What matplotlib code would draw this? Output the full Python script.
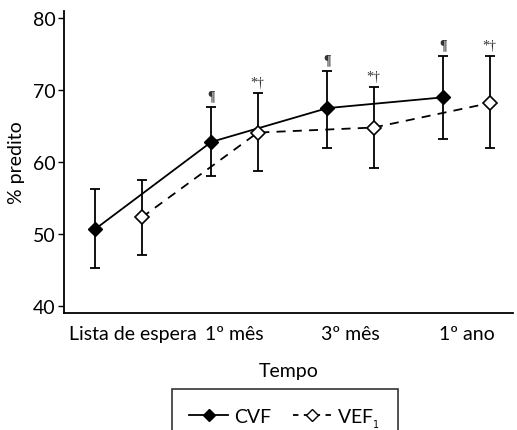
import numpy as np
import matplotlib.pyplot as plt
from matplotlib.lines import Line2D
from matplotlib.transforms import ScaledTranslation

# categories and series (% predito)
tempos = ['Lista de espera', '1º mês', '3º mês', '1º ano']
cvf = [50.7, 62.8, 67.5, 69.0]
cvf_lo = [45.2, 58.0, 62.0, 63.2]
cvf_hi = [56.2, 67.7, 72.7, 74.8]
vef1 = [52.3, 64.1, 64.8, 68.2]
vef1_lo = [47.1, 58.7, 59.2, 61.9]
vef1_hi = [57.5, 69.6, 70.4, 74.7]
cvf_marks = ['', '¶', '¶', '¶']
vef1_marks = ['', '*†', '*†', '*†']

plt.rcParams['font.family'] = ['Lato', 'DejaVu Sans']

x = np.arange(len(tempos))
off = 0.2
xc = x - off
xv = x + off

fig = plt.figure(figsize=(5.17, 4.31), dpi=100)
ax = fig.add_axes([0.124, 0.2715, 0.868, 0.7005])

# CVF: solid line, filled diamonds
ax.errorbar(xc, cvf,
            yerr=[np.array(cvf) - np.array(cvf_lo), np.array(cvf_hi) - np.array(cvf)],
            fmt='none', ecolor='black', elinewidth=1.3, capsize=3.5, capthick=1.3)
ax.plot(xc, cvf, color='black', lw=1.3, marker='D', ms=7,
        mfc='black', mec='black', zorder=3)

# VEF1: dashed line, open diamonds
ax.errorbar(xv, vef1,
            yerr=[np.array(vef1) - np.array(vef1_lo), np.array(vef1_hi) - np.array(vef1)],
            fmt='none', ecolor='black', elinewidth=1.3, capsize=3.5, capthick=1.3)
ax.plot(xv, vef1, color='black', lw=1.3, ls=(0, (5, 4)), marker='D', ms=7,
        mfc='white', mec='black', mew=1.2, zorder=3)

# significance marks above the error bars
for xi, top, s in zip(xc, cvf_hi, cvf_marks):
    ax.annotate(s, (xi, top), xytext=(0, 3), textcoords='offset points',
                ha='center', va='bottom', fontsize=10, fontweight='bold',
                family='Liberation Serif', color='#333333')
for xi, top, s in zip(xv, vef1_hi, vef1_marks):
    ax.annotate(s, (xi, top), xytext=(0, 3), textcoords='offset points',
                ha='center', va='bottom', fontsize=10,
                family='Liberation Serif', color='#333333')

ax.set_xlim(-0.47, 3.4)
ax.set_ylim(39, 81)
ax.set_yticks([40, 50, 60, 70, 80])
ax.set_xticks(x)
ax.set_xticklabels(tempos)
ax.tick_params(axis='x', length=0, pad=9, labelsize=14)
ax.tick_params(axis='y', length=4, width=1, labelsize=14, pad=2)
# first label sits a bit right of its category in the original
lbl = ax.get_xticklabels()[0]
lbl.set_transform(lbl.get_transform() + ScaledTranslation(0.14, 0, fig.dpi_scale_trans))
for side in ['top', 'right']:
    ax.spines[side].set_visible(False)
for side in ['left', 'bottom']:
    ax.spines[side].set_linewidth(1.3)

ax.set_xlabel('Tempo', fontsize=14, labelpad=14)
ax.set_ylabel('% predito', fontsize=14, labelpad=6)

handles = [
    Line2D([], [], color='black', lw=1.3, marker='D', ms=6, mfc='black'),
    Line2D([], [], color='black', lw=1.3, ls=(0, (3, 3)), marker='D', ms=6,
           mfc='white', mec='black'),
]
leg = fig.legend(handles, ['CVF', 'VEF$_{_1}$'], loc='center', ncol=2,
                 bbox_to_anchor=(0.551, 0.028), frameon=True, fancybox=False,
                 edgecolor='black', fontsize=14, handlelength=2.0,
                 handletextpad=0.3, columnspacing=1.1, borderpad=0.9,
                 borderaxespad=0)
leg.get_frame().set_linewidth(1.2)

fig.savefig('out.png', dpi=100)
